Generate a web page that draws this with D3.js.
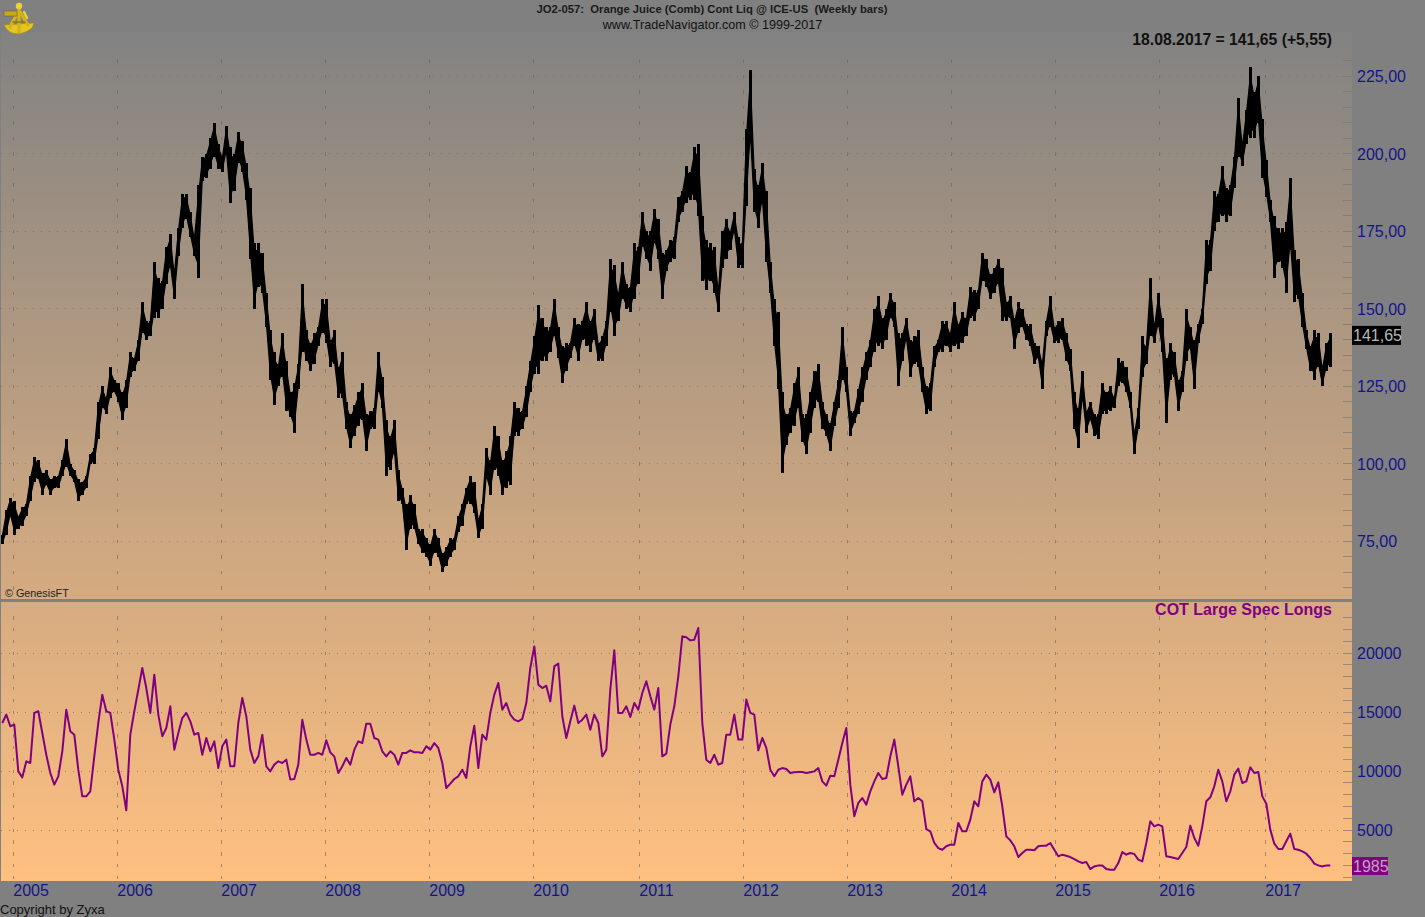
<!DOCTYPE html>
<html><head><meta charset="utf-8">
<script src="https://cdn.jsdelivr.net/npm/d3@7"></script>
<style>html,body{margin:0;padding:0;background:#808080;overflow:hidden}svg{display:block}text{font-family:"Liberation Sans",Arial,sans-serif}</style>
</head><body><svg id="c" width="1425" height="917"></svg>
<script>
const years = [2005,2006,2007,2008,2009,2010,2011,2012,2013,2014,2015,2016,2017];
const yearWeeks = [5.5,57.5,109.5,161.5,213.5,265.5,318.5,370.5,422.5,474.5,526.5,578.5,631.5];
const priceTicks = [225,200,175,150,125,100,75];
const cotTicks = [20000,15000,10000,5000];
// Fortnightly high / low readings
const priceHigh = [77,85,89,88,83,86,87,96,102,101,97,98,95,96,96,101,108,100,98,95,94,96,103,105,120,125,121,131,127,126,123,127,136,134,140,152,146,146,165,160,159,170,174,162,176,187,187,181,173,190,199,200,205,210,203,199,209,202,200,207,204,197,189,171,171,168,155,143,136,132,142,133,123,126,132,158,143,139,142,144,153,153,140,143,131,136,120,116,119,123,126,116,117,118,136,128,114,109,114,98,92,87,90,87,79,79,76,74,79,76,71,73,76,76,83,87,92,96,94,82,87,105,101,112,109,101,104,109,120,118,117,125,133,141,151,147,144,144,153,144,138,139,139,147,145,146,152,146,150,139,141,146,166,164,155,165,158,157,171,170,181,175,175,182,179,168,169,172,173,186,188,196,194,202,203,180,172,171,170,156,175,179,175,181,173,171,208,227,195,190,197,188,165,153,149,123,116,118,126,131,116,116,123,130,132,120,116,113,120,127,144,131,117,117,124,131,136,140,150,154,147,150,155,152,142,142,147,140,141,143,131,125,126,138,140,146,146,142,152,145,149,147,157,156,156,168,166,161,163,166,163,152,154,147,152,150,145,145,139,138,133,146,154,144,146,147,142,137,123,118,130,117,120,116,116,126,123,125,121,134,133,131,123,110,118,141,138,160,144,155,147,134,139,136,127,130,150,144,140,145,150,172,172,188,187,196,189,190,199,218,203,214,228,220,225,211,198,185,180,176,176,178,192,169,166,155,143,138,143,142,131,139,142];
const priceLow = [74,77,83,77,79,80,83,88,94,95,90,93,90,92,92,96,99,96,94,88,90,92,100,100,108,118,116,121,123,120,114,118,128,130,133,142,140,141,147,147,150,158,163,153,167,176,179,173,167,160,191,192,195,199,195,194,200,184,188,197,194,185,166,150,157,155,144,127,119,125,128,117,115,110,124,136,133,130,132,138,142,139,131,132,121,121,111,105,109,112,114,104,111,111,123,118,96,98,103,88,87,72,79,79,74,71,70,67,71,70,65,67,70,72,78,80,87,87,84,76,79,95,90,98,96,90,92,93,109,109,111,115,123,129,129,133,133,136,141,134,126,130,134,138,133,140,138,136,140,133,133,138,149,141,146,153,150,149,153,158,170,166,162,171,166,153,162,165,166,178,181,184,185,185,180,159,156,159,155,149,163,166,169,175,163,163,183,204,181,176,184,165,155,138,124,97,106,110,112,118,107,103,110,118,120,111,109,104,112,118,127,123,109,113,116,120,127,131,136,138,137,140,147,144,125,133,140,128,132,131,123,116,117,131,136,136,138,136,138,137,139,141,147,146,150,159,157,153,155,158,146,146,147,137,142,144,140,138,132,134,124,141,144,139,139,140,133,130,111,105,121,110,114,109,108,116,116,117,118,125,126,123,118,103,111,128,132,141,139,144,136,113,127,128,117,123,133,137,124,139,145,158,162,175,178,180,178,180,189,199,196,203,205,205,210,192,186,178,160,165,163,155,169,152,153,144,137,130,127,131,125,130,131];
const cotValues = [14070,14780,13790,13930,9970,9460,10820,10680,14920,15060,13220,11380,9830,8840,9550,11670,15200,13360,13080,10110,7850,7850,8280,11240,14070,16470,15060,14920,12660,10110,8700,6670,13080,15060,16890,18730,17030,14920,18160,14780,12940,13640,15480,11810,13220,14490,14920,14210,13080,13220,11380,12800,11670,12510,10250,12090,12660,10400,10400,14070,16190,14640,11810,10680,11240,13080,10400,9970,10540,10820,10680,10960,9270,9320,10540,14350,12660,11380,11380,11530,11380,12600,11580,11240,9830,10400,11100,10540,11810,12510,12370,14010,14010,12800,12660,11670,11240,11670,11380,10540,11530,11530,11750,11580,11580,11530,12090,11810,12370,11950,10680,8560,8930,9320,9550,10110,9410,12090,13840,10250,
13080,12660,14920,16470,17460,15200,15760,14780,14350,14210,14410,15760,18730,20560,17320,17030,17230,15900,18870,19100,14640,12800,14210,15540,14070,14350,14780,13500,14780,14070,11240,11810,16890,20230,14920,14920,15480,14580,15760,15200,16610,17600,16330,15200,17030,11240,11470,13930,15480,18020,21410,21330,21070,21130,22120,14070,10960,10680,11380,10540,10680,13080,13080,14780,12660,12660,16050,14920,14780,11750,12800,11950,10110,9550,10110,10250,10170,9830,9890,9920,9920,9830,9890,9970,10250,9120,8760,9600,9550,10960,12370,13640,8840,6160,7290,7710,7150,8280,9120,9830,9320,9410,11240,12660,10400,7990,8840,9550,7430,7710,7430,5080,4890,3900,3470,3330,3620,
3760,3760,5590,4890,4890,5880,7430,7010,9120,9690,9270,8190,9040,7010,4460,4120,3620,2710,3050,3330,3330,3280,3620,3670,3670,3900,3330,2770,2910,2820,2710,2540,2340,2200,2280,1690,1910,2000,2000,1690,1640,1640,2200,3130,2910,3050,2970,2490,2340,3900,5730,5310,5450,5310,2770,2710,2630,2540,3050,3560,5370,4320,3670,5310,7430,7770,8700,10110,9120,7430,8280,9690,10200,8980,9120,10310,9830,9920,7850,7230,5030,3840,3390,3390,4040,4690,3390,3330,3190,2990,2630,2150,2000,1910,2000,1985];

const svg = d3.select("#c");
const W=1425,H=917,L=1,R=1352,T=32,B=881,SEP=600;
const x = d3.scaleLinear().domain([0,666]).range([2.3,1334.3]);
const yP = d3.scaleLinear().domain([225,75]).range([76,541]);
const yC = d3.scaleLinear().domain([0,20000]).range([889,653]);

const grad = svg.append("defs").append("linearGradient").attr("id","bg").attr("x1",0).attr("x2",0).attr("y1",0).attr("y2",1);
grad.append("stop").attr("offset",0).attr("stop-color","#828282");
grad.append("stop").attr("offset",1).attr("stop-color","#FFC080");
svg.append("rect").attr("width",W).attr("height",H).attr("fill","#808080");
svg.append("rect").attr("x",L).attr("y",T).attr("width",R-L).attr("height",B-T).attr("fill","url(#bg)");

const gridC="#5a5248";
const g = svg.append("g").attr("shape-rendering","crispEdges");
// horizontal dotted grid
g.selectAll(".hp").data(priceTicks).join("line").attr("x1",L).attr("x2",R-9).attr("y1",d=>yP(d)).attr("y2",d=>yP(d))
 .attr("stroke",gridC).attr("stroke-opacity",.4).attr("stroke-dasharray","1,7");
g.selectAll(".hc").data(cotTicks).join("line").attr("x1",L).attr("x2",R-9).attr("y1",d=>yC(d)).attr("y2",d=>yC(d))
 .attr("stroke",gridC).attr("stroke-opacity",.55).attr("stroke-dasharray","1,7");
// minor ticks: right edge, and short dashes on year lines
const minorP = d3.range(60,240,5).map(v=>yP(v)).filter(y=>y>55&&y<SEP-3);
const minorC = d3.range(1000,24000,1000).map(v=>yC(v)).filter(y=>y>SEP+4&&y<B-2);
const minor = minorP.concat(minorC);
yearWeeks.forEach(w=>{
  g.selectAll(null).data(minor).join("line").attr("x1",x(w)).attr("x2",x(w)).attr("y1",d=>d-1.5).attr("y2",d=>d+2)
   .attr("stroke","#6a6258").attr("stroke-opacity",.6);
});
g.selectAll(null).data(minor).join("line").attr("x1",R-9).attr("x2",R).attr("y1",d=>d).attr("y2",d=>d)
 .attr("stroke","#777").attr("stroke-opacity",.7);

svg.append("rect").attr("x",0).attr("y",SEP-1).attr("width",R).attr("height",3).attr("fill","#808080");

// price bars
const wk = i => i*2;
const core = d3.area().x((d,i)=>x(wk(i))).y0((d,i)=>yP(priceLow[i]+(d-priceLow[i])*0.14)).y1((d,i)=>yP(d-(d-priceLow[i])*0.14));
svg.append("path").datum(priceHigh).attr("d",core).attr("fill","#000").attr("stroke","#000").attr("stroke-width",1.2).attr("stroke-linejoin","round");
svg.append("g").attr("shape-rendering","crispEdges").selectAll("line").data(priceHigh).join("line")
 .attr("x1",(d,i)=>x(wk(i))).attr("x2",(d,i)=>x(wk(i))).attr("y1",d=>yP(d)).attr("y2",(d,i)=>yP(priceLow[i]))
 .attr("stroke","#000").attr("stroke-width",2.4);

// COT line
svg.append("path").datum(cotValues).attr("fill","none").attr("stroke","#800080").attr("stroke-width",2).attr("stroke-linejoin","round")
 .attr("d",d3.line().x((d,i)=>x(wk(i))).y(d=>yC(d)));

// axis labels
const navy="#14148c";
svg.selectAll(null).data(priceTicks).join("text").attr("x",1357).attr("y",d=>yP(d)+6).attr("font-size",16).attr("fill",navy)
 .text(d=>d3.format(".2f")(d).replace(".",","));
svg.selectAll(null).data(cotTicks).join("text").attr("x",1357).attr("y",d=>yC(d)+6).attr("font-size",16).attr("fill",navy).text(d=>d);
svg.selectAll(null).data(years).join("text").attr("x",(d,i)=>x(yearWeeks[i])).attr("y",896).attr("font-size",16).attr("fill",navy).text(d=>d);

// value flags
const lastPrice = 141.65, lastCot = 1985;
svg.append("rect").attr("x",R).attr("y",yP(lastPrice)-8.5).attr("width",49).attr("height",19).attr("fill","#000");
svg.append("text").attr("x",R+1).attr("y",yP(lastPrice)+6.5).attr("font-size",16).attr("fill","#b8b8b8").text("141,65");
svg.append("rect").attr("x",R).attr("y",857).attr("width",36).attr("height",18).attr("fill","#800080");
svg.append("text").attr("x",R+1).attr("y",872).attr("font-size",16).attr("fill","#c0a0c0").text(lastCot);

// texts
svg.append("text").attr("x",712).attr("y",13).attr("text-anchor","middle").attr("font-size",11.25).attr("font-weight","bold").attr("fill","#1a1a1a").attr("xml:space","preserve")
 .text("JO2-057:  Orange Juice (Comb) Cont Liq @ ICE-US  (Weekly bars)");
svg.append("text").attr("x",712.5).attr("y",28.5).attr("text-anchor","middle").attr("font-size",12.6).attr("fill","#111").text("www.TradeNavigator.com © 1999-2017");
svg.append("text").attr("x",1332).attr("y",45).attr("text-anchor","end").attr("font-size",15.75).attr("font-weight","bold").attr("fill","#111").text("18.08.2017 = 141,65 (+5,55)");
svg.append("text").attr("x",1332).attr("y",615).attr("text-anchor","end").attr("font-size",16).attr("font-weight","bold").attr("fill","#800080").text("COT Large Spec Longs");
svg.append("text").attr("x",5).attr("y",597).attr("font-size",10.8).attr("fill","#222").text("© GenesisFT");
svg.append("text").attr("x",0).attr("y",914).attr("font-size",13).attr("fill","#111").text("Copyright by Zyxa");

// sextant logo
const logo = svg.append("g").attr("fill","none").attr("stroke-linecap","round");
logo.append("path").attr("d","M4,25 L34,23 L32,28 Q22,36 12,33 Q7,31 4,25 Z").attr("fill","#e6c624").attr("stroke","#a88c10").attr("stroke-width",.7);
logo.append("path").attr("d","M19,5 L19,32 M18,12 L10,27 M20,12 L28,25").attr("stroke","#d4b21c").attr("stroke-width",3.2);
logo.append("path").attr("d","M13,22 L25,22").attr("stroke","#8f7a18").attr("stroke-width",1.5);
logo.append("rect").attr("x",4).attr("y",11).attr("width",13).attr("height",5).attr("fill","#c9a81a").attr("stroke","#6d5a10").attr("stroke-width",.5);
logo.append("circle").attr("cx",19).attr("cy",6).attr("r",3.2).attr("fill","#ecd238");
logo.append("path").attr("d","M24,12 L27,18").attr("stroke","#ecd238").attr("stroke-width",2.4);
</script></body></html>
